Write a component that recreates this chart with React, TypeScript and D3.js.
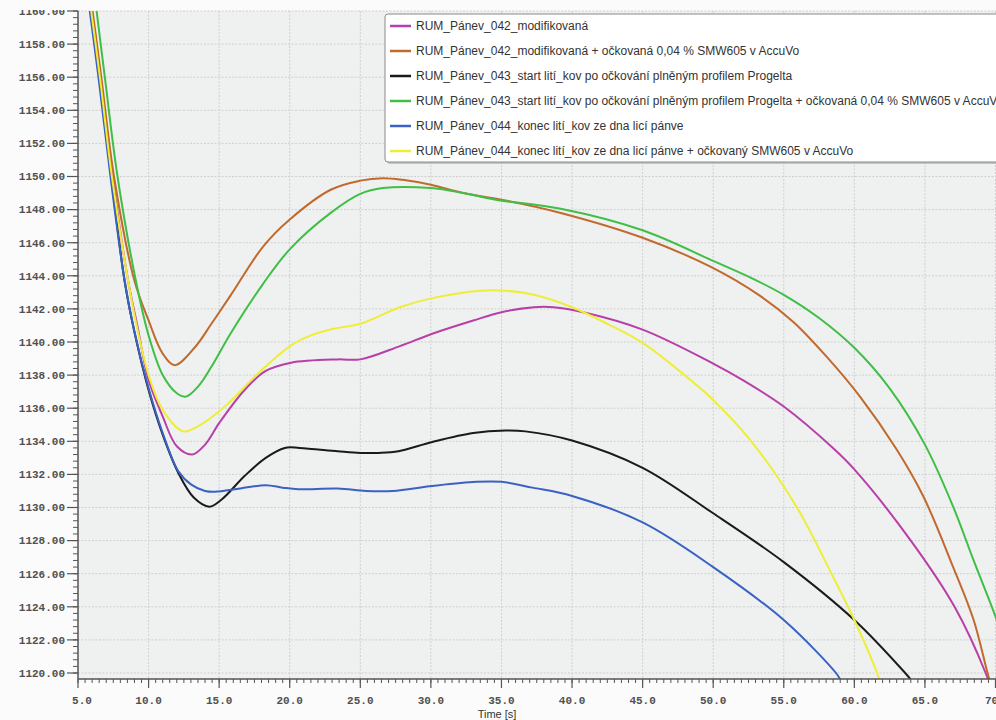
import React from 'react';
import * as d3 from 'd3';

// ---------- data (time [s], temperature) ----------
const seriesNames = [
  'RUM_Pánev_042_modifikovaná',
  'RUM_Pánev_042_modifikovaná + očkovaná 0,04 % SMW605 v AccuVo',
  'RUM_Pánev_043_start lití_kov po očkování plněným profilem Progelta',
  'RUM_Pánev_043_start lití_kov po očkování plněným profilem Progelta + očkovaná 0,04 % SMW605 v AccuVo',
  'RUM_Pánev_044_konec lití_kov ze dna licí pánve',
  'RUM_Pánev_044_konec lití_kov ze dna licí pánve + očkovaný SMW605 v AccuVo',
];
const seriesColors = ['#b83fa8', '#c06a2e', '#1a1a1a', '#3fbf45', '#3a62c4', '#eeee3a'];

const magenta042: [number, number][] = [
  [5.75, 1161.5], [6.6, 1156], [7.45, 1150], [8.55, 1143.7], [9.2, 1141], [10, 1137.7], [11, 1135.5],
  [12, 1133.7], [13.1, 1133.2], [14, 1133.8], [15, 1135.1], [16.8, 1137.1], [18.3, 1138.25], [20.1, 1138.75],
  [23.4, 1138.95], [25, 1138.95], [27.8, 1139.75], [30.1, 1140.5], [33, 1141.3], [35, 1141.8], [37.3, 1142.1],
  [38.7, 1142.1], [40.8, 1141.8], [45, 1140.75], [50, 1138.7], [52.1, 1137.7], [55, 1136.1],
  [58.6, 1133.5], [60, 1132.3], [64, 1128], [67.1, 1124], [69.3, 1120], [69.7, 1119],
];
const brown042o: [number, number][] = [
  [5.8, 1161.5], [6.65, 1156], [7.55, 1150], [9.0, 1143.7], [10, 1141.3], [11, 1139.3], [11.85, 1138.6],
  [13.3, 1139.7], [14.45, 1141.1], [15.8, 1142.8], [18.1, 1145.75], [20, 1147.4], [22.9, 1149.2], [25, 1149.75],
  [26.6, 1149.9], [28, 1149.8], [30, 1149.5], [32.3, 1149.0], [35, 1148.6], [39.2, 1147.8], [45, 1146.3],
  [49.8, 1144.55], [53.3, 1142.8], [55.7, 1141.2], [58.05, 1139.1], [60.4, 1136.7], [63, 1133.5],
  [64.9, 1130.65], [67, 1126.4], [68.45, 1123.2], [69.5, 1119.8], [69.8, 1119],
];
const black043: [number, number][] = [
  [5.65, 1161.5], [6.5, 1156], [7.35, 1150], [8.3, 1143.7], [9, 1140.6], [10, 1137.1], [11, 1134.4],
  [12.1, 1132.1], [13.2, 1130.6], [14.3, 1130.05], [15.2, 1130.5], [16.8, 1131.9], [18.3, 1133.0],
  [19.65, 1133.6], [20.7, 1133.6], [23.4, 1133.4], [25, 1133.3], [26.3, 1133.3], [27.7, 1133.4],
  [30.1, 1133.96], [33, 1134.5], [35.3, 1134.65], [36.7, 1134.6], [40, 1134.05], [45, 1132.4],
  [50, 1129.65], [55, 1126.7], [60, 1123.2], [63.6, 1120], [64, 1119.6],
];
const green043o: [number, number][] = [
  [6.1, 1161.5], [6.9, 1156], [7.8, 1150], [9.1, 1143.7], [10, 1140.4], [11, 1138.0], [12, 1136.9],
  [12.65, 1136.7], [13.5, 1137.3], [14.45, 1138.5], [15.8, 1140.5], [18.1, 1143.5], [20, 1145.6],
  [22.9, 1147.8], [25, 1148.95], [26.6, 1149.3], [30, 1149.3], [32.3, 1149.0], [34.6, 1148.6], [39.2, 1148.05],
  [45, 1146.75], [50, 1144.9], [52.5, 1143.95], [55, 1142.85], [57.5, 1141.45], [60, 1139.65], [62.5, 1137.2],
  [65, 1133.8], [67, 1130.05], [68.45, 1126.8], [70, 1123.4], [70.5, 1122],
];
const blue044: [number, number][] = [
  [5.6, 1161.5], [6.45, 1156], [7.3, 1150], [8.3, 1143.7], [9, 1140.6], [10, 1137.2], [11, 1134.5],
  [12.1, 1132.2], [13, 1131.4], [14, 1131.0], [14.7, 1130.95], [16.5, 1131.15], [18.3, 1131.35], [19.5, 1131.2],
  [20.6, 1131.1], [23.4, 1131.15], [25.4, 1131.0], [27.3, 1131.0], [30.1, 1131.3], [33.2, 1131.55],
  [35, 1131.55], [37.2, 1131.2], [40, 1130.7], [45, 1129.1], [50, 1126.4], [55, 1123.2],
  [58.7, 1120], [59, 1119.6],
];
const yellow044o: [number, number][] = [
  [5.7, 1161.5], [6.55, 1156], [7.4, 1150], [8.55, 1143.7], [9.2, 1140.8], [10, 1138.0], [11, 1135.9],
  [12.45, 1134.6], [13.5, 1134.9], [15.4, 1136.1], [17.75, 1138.1], [20.1, 1139.8], [21.5, 1140.4],
  [23.1, 1140.8], [25, 1141.1], [27.8, 1142.1], [30.1, 1142.65], [33.5, 1143.1], [35.3, 1143.1],
  [37.3, 1142.85], [40, 1142.1], [42.5, 1141.1], [45, 1139.95], [48.4, 1137.7], [50, 1136.5],
  [52.7, 1134.0], [55.9, 1130.05], [58.5, 1125.8], [60, 1123.2], [61.7, 1119.8], [62, 1119],
];
const seriesData = [magenta042, brown042o, black043, green043o, blue044, yellow044o];

const xMajorTicks = [5, 10, 15, 20, 25, 30, 35, 40, 45, 50, 55, 60, 65, 70];
const yMajorTicks = [1120, 1122, 1124, 1126, 1128, 1130, 1132, 1134, 1136, 1138, 1140, 1142, 1144, 1146, 1148, 1150, 1152, 1154, 1156, 1158, 1160];
const xTitle = 'Time [s]';

// ---------- layout ----------
const W = 996;
const H = 720;
const plotLeft = 78;
const plotRight = 996;
const plotTop = 11;
const plotBottom = 679;

export default function App() {
  const x = d3.scaleLinear().domain([5, 70]).range([78, 995.5]);
  const y = d3.scaleLinear().domain([1120, 1160]).range([673, 11]);

  const line = d3
    .line<[number, number]>()
    .x((d) => x(d[0]))
    .y((d) => y(d[1]))
    .curve(d3.curveCatmullRom.alpha(0.5));

  const xMinor = d3.range(5, 70.01, 0.5);
  const yMinor = d3.range(1120, 1160.01, 0.4);
  const fmtY = d3.format('.2f');
  const fmtX = d3.format('.1f');
  const axisColor = '#555';
  const monoFont = '"Liberation Mono", "DejaVu Sans Mono", monospace';
  const sansFont = '"Liberation Sans", Arial, sans-serif';

  return (
    <svg width={W} height={H} style={{ position: 'absolute', left: 0, top: 0, background: '#fbfbfb' }}>
      <defs>
        <clipPath id="plotClip">
          <rect x={plotLeft} y={plotTop} width={plotRight - plotLeft} height={plotBottom - plotTop} />
        </clipPath>
        <clipPath id="labelClip">
          <rect x={0} y={10} width={plotLeft} height={H} />
        </clipPath>
      </defs>
      <rect x={0} y={0} width={W} height={H} fill="#fbfbfb" />
      <rect x={plotLeft} y={plotTop} width={plotRight - plotLeft} height={plotBottom - plotTop} fill="#eff0f0" />

      {/* grid */}
      <g stroke="#cfcfcf" strokeWidth={1} strokeDasharray="2,1.5">
        {xMajorTicks.filter((t) => t > 5).map((t) => (
          <line key={'gx' + t} x1={x(t)} x2={x(t)} y1={plotTop} y2={plotBottom} />
        ))}
        {yMajorTicks.map((v) => (
          <line key={'gy' + v} x1={plotLeft} x2={plotRight} y1={y(v)} y2={y(v)} />
        ))}
      </g>

      {/* curves */}
      <g clipPath="url(#plotClip)" fill="none" strokeWidth={2} strokeLinejoin="round">
        {seriesData.map((d, i) => (
          <path key={'s' + i} d={line(d) || ''} stroke={seriesColors[i]} />
        ))}
      </g>

      {/* y axis */}
      <g>
        <line x1={plotLeft} x2={plotLeft} y1={plotTop} y2={plotBottom} stroke={axisColor} strokeWidth={1.5} />
        {yMinor.map((v, i) => (
          <line key={'ym' + i} x1={plotLeft - 5} x2={plotLeft} y1={y(v)} y2={y(v)} stroke={axisColor} strokeWidth={1} />
        ))}
        {yMajorTicks.map((v) => (
          <line key={'yM' + v} x1={plotLeft - 11} x2={plotLeft} y1={y(v)} y2={y(v)} stroke={axisColor} strokeWidth={1.2} />
        ))}
        <g clipPath="url(#labelClip)">
          {yMajorTicks.map((v) => (
            <text
              key={'yl' + v}
              x={plotLeft - 13}
              y={y(v)}
              dy="0.35em"
              textAnchor="end"
              fontFamily={monoFont}
              fontSize={11}
              fontWeight="bold"
              fill="#505050"
            >
              {fmtY(v)}
            </text>
          ))}
        </g>
      </g>

      {/* x axis */}
      <g>
        <line x1={plotLeft} x2={plotRight} y1={plotBottom} y2={plotBottom} stroke={axisColor} strokeWidth={1.5} />
        {xMinor.map((t, i) => (
          <line key={'xm' + i} x1={x(t)} x2={x(t)} y1={plotBottom} y2={plotBottom + 4} stroke={axisColor} strokeWidth={1} />
        ))}
        {xMajorTicks.map((t) => (
          <line key={'xM' + t} x1={x(t)} x2={x(t)} y1={plotBottom} y2={plotBottom + 9} stroke={axisColor} strokeWidth={1.2} />
        ))}
        {xMajorTicks.map((t) => (
          <text
            key={'xl' + t}
            x={t === 5 ? x(t) + 4 : t === 70 ? x(t) - 4 : x(t)}
            y={704}
            textAnchor="middle"
            fontFamily={monoFont}
            fontSize={11}
            fontWeight="bold"
            fill="#505050"
          >
            {t === 70 ? '70' : fmtX(t)}
          </text>
        ))}
        <text x={497} y={718} textAnchor="middle" fontFamily={sansFont} fontSize={11} fill="#333">
          {xTitle}
        </text>
      </g>

      {/* legend */}
      <g>
        <rect x={387} y={16} width={620} height={148} rx={3} fill="#9a9a9a" opacity={0.5} />
        <rect x={385} y={14} width={620} height={148} rx={3} fill="#ffffff" stroke="#8a8a8a" strokeWidth={1} />
        {seriesNames.map((name, i) => {
          const cy = 26 + i * 25;
          return (
            <g key={'lg' + i}>
              <line x1={390} x2={411} y1={cy} y2={cy} stroke={seriesColors[i]} strokeWidth={2.5} />
              <text x={416} y={cy} dy="0.35em" fontFamily={sansFont} fontSize={12} fill="#333">
                {name}
              </text>
            </g>
          );
        })}
      </g>
    </svg>
  );
}
